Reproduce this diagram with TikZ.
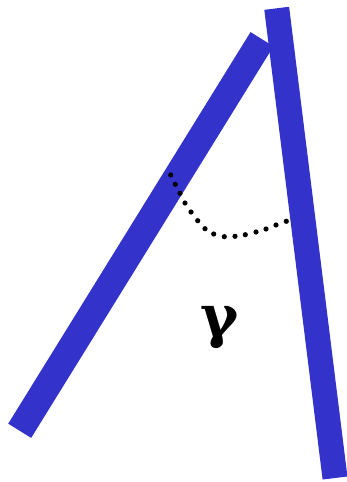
\documentclass[tikz,border=0pt]{standalone}
\usepackage{fontspec}
\newfontfamily\greekfont{DejaVu Serif}
\definecolor{barblue}{RGB}{51,51,204}
\begin{document}
\begin{tikzpicture}[x=1pt,y=-1pt,
  bar/.style={draw=barblue,line cap=butt},
  anglemark/.style={fill=black}]
\useasboundingbox (0,0) rectangle (347,482);
\coordinate (la) at (19.7,430.8);
\coordinate (lb) at (262,39.2);
\coordinate (ra) at (276.7,8.3);
\coordinate (rb) at (335,478);
\draw[bar,line width=27pt] (la) -- (lb);
\draw[bar,line width=25pt] (ra) -- (rb);
\foreach \p in {(170.7,175),(175.3,184.3),(180,193.3),(185,203),(191,212),(197.7,220.7),(205,228.7),(213.7,234),(224.3,236.7),(235,236.3),(245.3,234.7),(256,232),(266,229),(276,225),(286.3,221.3)}
  \fill[anglemark] \p circle (2.6pt);
\node[inner sep=0pt,font=\greekfont\bfseries\fontsize{58}{58}\selectfont] (g) at (220,328) {γ};
\end{tikzpicture}
\end{document}
